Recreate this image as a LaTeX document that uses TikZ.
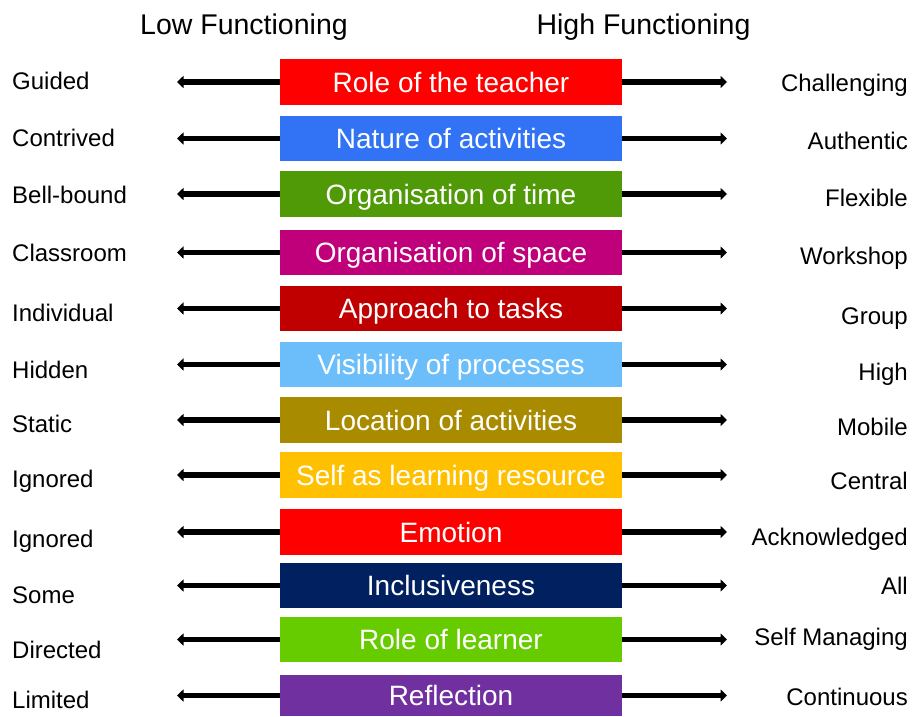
\documentclass[tikz,border=0pt]{standalone}
\usepackage{fontspec}
\setmainfont{Liberation Sans}
\usetikzlibrary{arrows.meta}
\definecolor{k1}{HTML}{FF0000}
\definecolor{k2}{HTML}{3173F4}
\definecolor{k3}{HTML}{4F9A06}
\definecolor{k4}{HTML}{BF007A}
\definecolor{k5}{HTML}{C00000}
\definecolor{k6}{HTML}{6CBEFA}
\definecolor{k7}{HTML}{A98B00}
\definecolor{k8}{HTML}{FFC000}
\definecolor{k9}{HTML}{FF0000}
\definecolor{k10}{HTML}{002060}
\definecolor{k11}{HTML}{66CC00}
\definecolor{k12}{HTML}{7030A0}
\begin{document}
\begin{tikzpicture}[x=1pt,y=-1pt,
  catbox/.style={fill=#1, draw=none, minimum width=342pt, inner sep=0pt, text=white,
    font=\fontsize{28}{30}\selectfont, text height=20pt, text depth=0pt, anchor=center},
  lab/.style={font=\fontsize{24}{26}\selectfont, inner sep=0pt},
  head/.style={font=\fontsize{28.5}{30}\selectfont, inner sep=0pt, anchor=base},
  arr/.style={line width=5.5pt, -{Triangle[length=6.5pt,width=12pt]}}]
\useasboundingbox (0,0) rectangle (912,716);
\node[head] (hl) at (244,34.5) {Low Functioning};
\node[head] (hh) at (643.5,34.5) {High Functioning};
\foreach \i/\t/\h/\txt/\ll/\lly/\rl/\rly in {
  1/59/46/Role of the teacher/Guided/81/Challenging/83,
  2/116/45/Nature of activities/Contrived/138/Authentic/141,
  3/171/46/Organisation of time/Bell-bound/195/Flexible/198,
  4/230/45/Organisation of space/Classroom/253/Workshop/256,
  5/286/45/Approach to tasks/Individual/313/Group/316,
  6/342/45/Visibility of processes/Hidden/370/High/372,
  7/397/46/Location of activities/Static/424/Mobile/427,
  8/452/46/Self as learning resource/Ignored/479/Central/481,
  9/509/46/Emotion/Ignored/539/Acknowledged/537,
  10/563/45/Inclusiveness/Some/595/All/586,
  11/617/45/Role of learner/Directed/650/Self Managing/637,
  12/675/41/Reflection/Limited/700/Continuous/697}{
  \node[catbox=k\i, minimum height=\h pt] (b\i) at (451,\t+\h/2) {\txt};
  \coordinate (la\i) at (177,\t+\h/2);
  \coordinate (ra\i) at (727,\t+\h/2);
  \draw[arr] (b\i.west) -- (la\i);
  \draw[arr] (b\i.east) -- (ra\i);
  \node[lab, anchor=base west] (l\i) at (12,\lly+8.5) {\ll};
  \node[lab, anchor=base east] (r\i) at (908,\rly+8.5) {\rl};
}
\end{tikzpicture}
\end{document}
